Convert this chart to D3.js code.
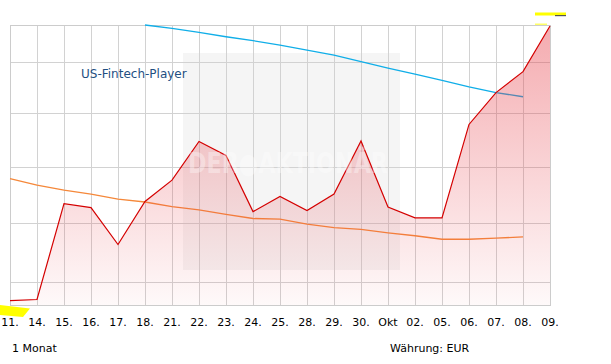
<!DOCTYPE html>
<html>
<head>
<meta charset="utf-8">
<script src="https://cdn.jsdelivr.net/npm/d3@7"></script>
<style>
  body { margin: 0; background: #fff; }
  text { font-family: "DejaVu Sans", Verdana, sans-serif; }
</style>
</head>
<body>
<div id="vis"></div>
<script>
var days = ['11.', '14.', '15.', '16.', '17.', '18.', '21.', '22.', '23.', '24.', '25.',
            '28.', '29.', '30.', 'Okt', '02.', '05.', '06.', '07.', '08.', '09.'];

var price = [19.69, 19.71, 21.34, 21.27, 20.63, 21.38, 21.76, 22.47, 22.21, 21.20, 21.47,
             21.22, 21.51, 22.48, 21.28, 21.09, 21.09, 22.79, 23.40, 23.81, 24.73];

// orange average, one value per day up to '08.'
var avgShort = [21.79, 21.67, 21.58, 21.51, 21.42, 21.37, 21.29, 21.23, 21.15, 21.08,
                21.07, 20.98, 20.92, 20.89, 20.83, 20.78, 20.72, 20.72, 20.74, 20.76];

// blue average, starts at '18.'
var avgLongStart = 5;
var avgLong = [24.75, 24.68, 24.60, 24.51, 24.43, 24.34, 24.24, 24.14, 24.01, 23.88,
               23.76, 23.64, 23.51, 23.40, 23.32];

var gridValues = [20, 21, 22, 23, 24];

var width = 611;
var height = 364;
var plot = {left: 10, right: 550, top: 25, bottom: 305};

var svg = d3.select('#vis').append('svg')
    .attr('width', width)
    .attr('height', height);

svg.append('rect')
    .attr('width', width)
    .attr('height', height)
    .attr('fill', '#fff');

var x = d3.scalePoint()
    .domain(days)
    .range([plot.left, plot.right]);

var y = d3.scaleLog()
    .domain([19.62, 24.75])
    .range([plot.bottom, plot.top]);

var defs = svg.append('defs');
var grad = defs.append('linearGradient')
    .attr('id', 'fillGrad')
    .attr('gradientUnits', 'userSpaceOnUse')
    .attr('x1', 0).attr('x2', 0)
    .attr('y1', plot.top).attr('y2', plot.bottom);
grad.append('stop').attr('offset', '0%').attr('stop-color', 'rgb(230,60,70)').attr('stop-opacity', 0.43);
grad.append('stop').attr('offset', '100%').attr('stop-color', 'rgb(230,60,70)').attr('stop-opacity', 0.03);

// watermark background
svg.append('rect')
    .attr('x', 183).attr('y', 53)
    .attr('width', 217).attr('height', 217)
    .attr('fill', '#f5f5f5');

// grid
var grid = svg.append('g')
    .attr('stroke', '#d2d2d2')
    .attr('stroke-width', 1)
    .attr('shape-rendering', 'crispEdges');

grid.selectAll('line.v')
    .data(days)
    .enter().append('line')
    .attr('class', 'v')
    .attr('x1', function (d) { return x(d) + 0.5; })
    .attr('x2', function (d) { return x(d) + 0.5; })
    .attr('y1', plot.top)
    .attr('y2', plot.bottom);

grid.selectAll('line.h')
    .data(gridValues)
    .enter().append('line')
    .attr('class', 'h')
    .attr('x1', plot.left)
    .attr('x2', plot.right)
    .attr('y1', function (d) { return Math.round(y(d)) + 0.5; })
    .attr('y2', function (d) { return Math.round(y(d)) + 0.5; });

svg.append('rect')
    .attr('x', plot.left + 0.5).attr('y', plot.top + 0.5)
    .attr('width', plot.right - plot.left)
    .attr('height', plot.bottom - plot.top)
    .attr('fill', 'none')
    .attr('stroke', '#cccccc')
    .attr('stroke-width', 1.5)
    .attr('shape-rendering', 'crispEdges');

var line = d3.line()
    .x(function (d) { return x(days[d.i]); })
    .y(function (d) { return y(d.v); });

function toPoints(arr, start) {
    return arr.map(function (v, k) {
        return {i: k + start, v: v};
    });
}

svg.append('path')
    .datum(toPoints(avgShort, 0))
    .attr('d', line)
    .attr('fill', 'none')
    .attr('stroke', '#f5883a')
    .attr('stroke-width', 1.3);

svg.append('path')
    .datum(toPoints(avgLong, avgLongStart))
    .attr('d', line)
    .attr('fill', 'none')
    .attr('stroke', '#10aee8')
    .attr('stroke-width', 1.3);

var area = d3.area()
    .x(function (d) { return x(days[d.i]); })
    .y0(plot.bottom)
    .y1(function (d) { return y(d.v); });

svg.append('path')
    .datum(toPoints(price, 0))
    .attr('d', area)
    .attr('fill', 'url(#fillGrad)');

svg.append('path')
    .datum(toPoints(price, 0))
    .attr('d', line)
    .attr('fill', 'none')
    .attr('stroke', '#d40000')
    .attr('stroke-width', 1.2);

// watermark text
svg.append('text')
    .attr('x', 188).attr('y', 173)
    .attr('textLength', 200)
    .attr('lengthAdjust', 'spacingAndGlyphs')
    .style('font-family', '"DejaVu Sans Condensed", "DejaVu Sans", sans-serif')
    .style('font-weight', 'bold')
    .style('font-size', '28px')
    .attr('fill', '#fff')
    .attr('fill-opacity', 0.35)
    .text('DER\u25CFAKTIONÄR');

svg.append('text')
    .attr('x', 81).attr('y', 78)
    .style('font-size', '12px')
    .attr('fill', '#1f4f82')
    .text('US-Fintech-Player');

// x labels
svg.append('g')
    .selectAll('text')
    .data(days)
    .enter().append('text')
    .attr('x', function (d) { return x(d); })
    .attr('y', 326)
    .attr('text-anchor', 'middle')
    .style('font-size', '11px')
    .attr('fill', '#000')
    .text(function (d) { return d; });

svg.append('text')
    .attr('x', 12).attr('y', 352)
    .style('font-size', '11px')
    .attr('fill', '#000')
    .text('1 Monat');

svg.append('text')
    .attr('x', 390).attr('y', 352)
    .style('font-size', '11px')
    .attr('fill', '#000')
    .text('Währung: EUR');

// yellow markers at the ends
svg.append('rect')
    .attr('x', 535).attr('y', 12.5)
    .attr('width', 31).attr('height', 3)
    .attr('fill', '#ffff00');
svg.append('rect')
    .attr('x', 555).attr('y', 15)
    .attr('width', 11).attr('height', 1.2)
    .attr('fill', '#555');
svg.append('rect')
    .attr('x', 535).attr('y', 23.5)
    .attr('width', 12).attr('height', 1.5)
    .attr('fill', '#ffff66');
svg.append('polygon')
    .attr('points', '0,305 30,308.5 23,317 0,315')
    .attr('fill', '#ffff00');
</script>
</body>
</html>
